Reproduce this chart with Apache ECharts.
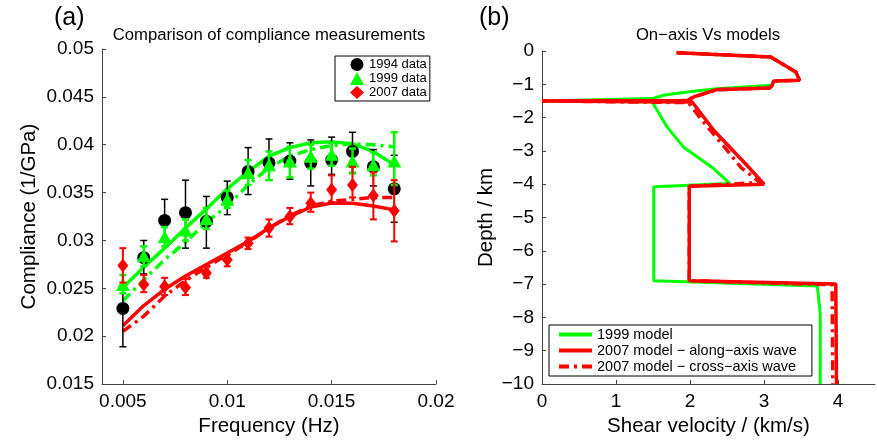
<!DOCTYPE html>
<html><head><meta charset="utf-8">
<script src="https://cdn.jsdelivr.net/npm/echarts@6/dist/echarts.min.js"></script>
<style>html,body{margin:0;padding:0;background:#fff}#c{width:877px;height:442px}</style>
</head><body><div id="c"></div>
<script>
// ---------- Panel (a) data ----------
const freq = [0.005,0.006,0.007,0.008,0.009,0.010,0.011,0.012,0.013,0.014,0.015,0.016,0.017,0.018];
const freqTicks = [0.005,0.01,0.015,0.02];
const complTicks = [0.015,0.02,0.025,0.03,0.035,0.04,0.045,0.05];

const d1994  = [0.0229,0.0282,0.0321,0.0329,0.0320,0.0345,0.0372,0.0381,0.0383,0.0381,0.0384,0.0393,0.0377,0.0354];
const lo1994 = [0.0189,0.0265,0.0299,0.0292,0.0292,0.0327,0.0348,0.0363,0.0364,0.0357,0.0369,0.0371,0.0357,0.0319];
const hi1994 = [0.0249,0.0300,0.0343,0.0363,0.0346,0.0362,0.0397,0.0406,0.0402,0.0405,0.0408,0.0413,0.0395,0.0389];

const d1999  = [0.0254,0.0284,0.0304,0.0311,0.0323,0.0343,0.0371,0.0379,0.0383,0.0388,0.0390,0.0383,0.0379,0.0383];
const lo1999 = [0.0245,0.0273,0.0294,0.0300,0.0312,0.0334,0.0358,0.0363,0.0366,0.0375,0.0378,0.0370,0.0368,0.0358];
const hi1999 = [0.0264,0.0294,0.0314,0.0322,0.0334,0.0352,0.0384,0.0393,0.0398,0.0400,0.0402,0.0396,0.0392,0.0413];

const d2007  = [0.0274,0.0254,0.0252,0.0251,0.0266,0.0280,0.0297,0.0313,0.0325,0.0339,0.0353,0.0358,0.0347,0.0331];
const lo2007 = [0.0256,0.0246,0.0243,0.0243,0.0261,0.0273,0.0291,0.0304,0.0317,0.0330,0.0340,0.0345,0.0322,0.0299];
const hi2007 = [0.0292,0.0264,0.0261,0.0260,0.0272,0.0285,0.0303,0.0322,0.0334,0.0350,0.0368,0.0377,0.0371,0.0363];

const m1999Solid = [0.0251,0.0272,0.0292,0.0313,0.0333,0.0354,0.0372,0.0388,0.0397,0.0402,0.0403,0.0401,0.0393,0.0379];
const m1999Dash  = [0.0237,0.0259,0.0280,0.0298,0.0319,0.0336,0.0358,0.0376,0.0388,0.0395,0.0399,0.0401,0.0400,0.0398];
const m2007Solid = [0.0211,0.0232,0.0249,0.0263,0.0275,0.0287,0.0299,0.0313,0.0325,0.0335,0.0339,0.0339,0.0336,0.0332];
const m2007Dash  = [0.0205,0.0221,0.0242,0.0258,0.0272,0.0285,0.0298,0.0313,0.0326,0.0336,0.0341,0.0343,0.0345,0.0345];

// ---------- Panel (b) data: [shear velocity km/s, depth km] ----------
const velTicks = [0,1,2,3,4];
const depthTicks = [0,-1,-2,-3,-4,-5,-6,-7,-8,-9,-10];
const prof1999 = [[1.82,-0.05],[3.09,-0.18],[3.43,-0.63],[3.48,-0.88],[3.13,-0.90],[3.11,-1.03],[2.36,-1.13],[1.96,-1.23],[1.64,-1.33],[1.49,-1.43],[0.02,-1.50],[1.49,-1.53],[1.69,-2.28],[1.91,-2.88],[2.32,-3.53],[2.54,-3.98],[1.51,-4.08],[1.51,-6.90],[3.72,-7.06],[3.76,-7.88],[3.76,-10]];
const profAlong = [[1.82,-0.05],[3.09,-0.18],[3.43,-0.63],[3.48,-0.88],[3.13,-0.90],[3.11,-1.03],[3.08,-1.11],[2.36,-1.16],[2.05,-1.38],[1.96,-1.49],[0.0,-1.50],[2.03,-1.53],[2.32,-2.38],[2.81,-3.53],[3.00,-4.00],[1.99,-4.06],[1.99,-6.90],[3.97,-7.00],[3.98,-10]];
const profCross = [[1.82,-0.05],[3.09,-0.18],[3.43,-0.63],[3.48,-0.88],[3.13,-0.90],[3.11,-1.03],[3.08,-1.11],[2.36,-1.16],[2.05,-1.38],[1.96,-1.49],[0.0,-1.50],[1.98,-1.55],[2.14,-2.02],[2.50,-2.98],[2.69,-3.50],[2.95,-3.95],[1.99,-4.06],[1.99,-6.90],[3.92,-7.02],[3.93,-10]];

const FONT = "'Liberation Sans', Arial, Helvetica, sans-serif";
const GREEN = '#00ff00', RED = '#ff0000', BLACK = '#000000';
const DASHDOT = [10,5,3,5];

function axisBase(grid, ticks, fmt, extra) {
  return Object.assign({
    type: 'value', gridIndex: grid,
    axisLine: {show: true, onZero: false, lineStyle: {color: '#444', width: 1}},
    axisTick: {show: true, inside: true, length: 4, customValues: ticks, lineStyle: {color: '#444'}},
    axisLabel: {show: true, customValues: ticks, formatter: fmt, color: '#000', fontSize: 19, fontFamily: FONT, margin: 8},
    splitLine: {show: false},
    nameTextStyle: {color: '#000', fontSize: 20.5, fontFamily: FONT},
    nameLocation: 'middle'
  }, extra);
}
const fmtDec = v => String(+(+v).toFixed(4));
const fmtInt = v => (v < 0 ? '\u2212' + (-v) : String(v));

function errSeries(color, data, lo, hi, width, z) {
  return {
    type: 'custom', xAxisIndex: 0, yAxisIndex: 0, silent: true, z: z,
    data: freq.map((f, i) => [f, lo[i], hi[i]]),
    encode: {x: 0, y: [1, 2]},
    renderItem: (params, api) => {
      const x = api.value(0);
      const p1 = api.coord([x, api.value(1)]);
      const p2 = api.coord([x, api.value(2)]);
      const cw = 3.5;
      const st = {stroke: color, lineWidth: width};
      return {type: 'group', children: [
        {type: 'line', shape: {x1: p1[0], y1: p1[1], x2: p2[0], y2: p2[1]}, style: st},
        {type: 'line', shape: {x1: p1[0]-cw, y1: p1[1], x2: p1[0]+cw, y2: p1[1]}, style: st},
        {type: 'line', shape: {x1: p2[0]-cw, y1: p2[1], x2: p2[0]+cw, y2: p2[1]}, style: st}
      ]};
    }
  };
}
function scatter(name, sym, size, color, vals, z) {
  return {name: name, type: 'scatter', xAxisIndex: 0, yAxisIndex: 0, symbol: sym, symbolSize: size,
    itemStyle: {color: color, opacity: 1}, data: freq.map((f, i) => [f, vals[i]]), z: z, silent: true};
}
function modelA(name, color, vals, dash) {
  return {name: name, type: 'line', xAxisIndex: 0, yAxisIndex: 0, symbol: 'none', smooth: false,
    lineStyle: {color: color, width: 3.5, type: dash ? DASHDOT : 'solid'},
    data: freq.map((f, i) => [f, vals[i]]), z: 2, silent: true};
}
function profile(name, color, pts, width, dash, z) {
  return {name: name, type: 'line', xAxisIndex: 1, yAxisIndex: 1, symbol: 'none',
    itemStyle: {color: color},
    lineStyle: {color: color, width: width, type: dash ? DASHDOT : 'solid'},
    data: pts, z: z, silent: true};
}

const chart = echarts.init(document.getElementById('c'), null, {renderer: 'canvas'});
chart.setOption({
  animation: false,
  backgroundColor: '#fff',
  textStyle: {fontFamily: FONT},
  grid: [
    {left: 102, top: 49, width: 334, height: 336},
    {left: 542, top: 51, width: 333, height: 333}
  ],
  xAxis: [
    axisBase(0, freqTicks, fmtDec, {min: 0.004, max: 0.02, name: 'Frequency (Hz)', nameGap: 31}),
    axisBase(1, velTicks, fmtInt, {min: 0, max: 4.5, name: 'Shear velocity / (km/s)', nameGap: 31})
  ],
  yAxis: [
    axisBase(0, complTicks, fmtDec, {min: 0.015, max: 0.05, name: 'Compliance (1/GPa)', nameGap: 62}),
    axisBase(1, depthTicks, fmtInt, {min: -10, max: 0, name: 'Depth / km', nameGap: 45})
  ],
  legend: [
    {data: ['1994 data', '1999 data', '2007 data'], left: 335, top: 56, orient: 'vertical',
     backgroundColor: '#fff', borderColor: '#000', borderWidth: 1, borderRadius: 0,
     padding: [2, 3, 2, 15], itemGap: 1, itemWidth: 14, itemHeight: 13, selectedMode: false,
     textStyle: {fontSize: 13, lineHeight: 13, color: '#000', fontFamily: FONT}},
    {data: ['1999 model', '2007 model \u2212 along\u2212axis wave', '2007 model \u2212 cross\u2212axis wave'],
     left: 549, top: 325, orient: 'vertical',
     backgroundColor: '#fff', borderColor: '#000', borderWidth: 1, borderRadius: 0,
     padding: [2, 15, 2, 8], itemGap: 1, itemWidth: 33, itemHeight: 12, selectedMode: false,
     itemStyle: {opacity: 0},
     lineStyle: {width: 4},
     textStyle: {fontSize: 14.5, lineHeight: 15, color: '#000', fontFamily: FONT}}
  ],
  graphic: [
    {type: 'text', left: 54, top: 6, style: {text: '(a)', font: '25px ' + FONT, fill: '#000'}},
    {type: 'text', x: 269, y: 35, style: {text: 'Comparison of compliance measurements', font: '16.7px ' + FONT, fill: '#000', align: 'center', verticalAlign: 'middle'}},
    {type: 'text', left: 479, top: 6, style: {text: '(b)', font: '25px ' + FONT, fill: '#000'}},
    {type: 'text', x: 708, y: 35, style: {text: 'On\u2212axis Vs models', font: '16.7px ' + FONT, fill: '#000', align: 'center', verticalAlign: 'middle'}}
  ],
  series: [
    modelA('m1999s', GREEN, m1999Solid, false),
    modelA('m1999d', GREEN, m1999Dash, true),
    modelA('m2007s', RED, m2007Solid, false),
    modelA('m2007d', RED, m2007Dash, true),
    errSeries(BLACK, d1994, lo1994, hi1994, 1.5, 3),
    scatter('1994 data', 'circle', 13, BLACK, d1994, 4),
    errSeries(GREEN, d1999, lo1999, hi1999, 2.5, 5),
    scatter('1999 data', 'triangle', [14, 13], GREEN, d1999, 6),
    errSeries(RED, d2007, lo2007, hi2007, 2, 7),
    scatter('2007 data', 'diamond', [11, 14], RED, d2007, 8),
    profile('1999 model', GREEN, prof1999, 3, false, 2),
    profile('2007 model \u2212 along\u2212axis wave', RED, profAlong, 3.5, false, 3),
    profile('2007 model \u2212 cross\u2212axis wave', RED, profCross, 3.5, true, 4)
  ]
});
</script></body></html>
